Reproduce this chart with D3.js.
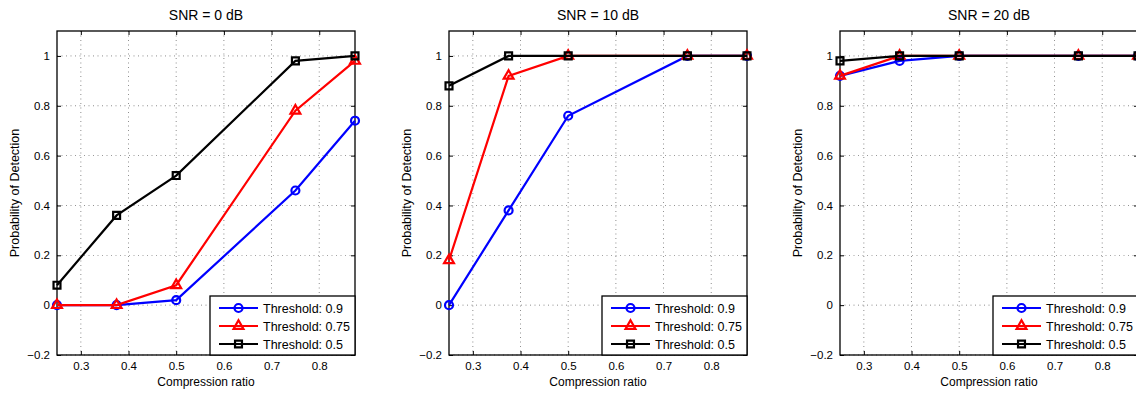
<!DOCTYPE html>
<html><head><meta charset="utf-8">
<script src="https://cdn.jsdelivr.net/npm/d3@7"></script>
<style>
html,body{margin:0;padding:0;background:#fff;overflow:hidden}
svg{display:block;font-family:"Liberation Sans",Arial,Helvetica,sans-serif}
</style></head>
<body>
<svg id="chart" width="1136" height="395"></svg>
<script>
const compressionRatios = [0.25, 0.375, 0.5, 0.75, 0.875];
const panelTitles = ["SNR = 0 dB", "SNR = 10 dB", "SNR = 20 dB"];
const seriesNames = ["Threshold: 0.9", "Threshold: 0.75", "Threshold: 0.5"];
// values per panel [SNR0, SNR10, SNR20]
const threshold09 = [
  [0, 0, 0.02, 0.46, 0.74],
  [0, 0.38, 0.76, 1, 1],
  [0.92, 0.98, 1, 1, 1]
];
const threshold075 = [
  [0, 0, 0.08, 0.78, 0.98],
  [0.18, 0.92, 1, 1, 1],
  [0.92, 1, 1, 1, 1]
];
const threshold05 = [
  [0.08, 0.36, 0.52, 0.98, 1.0],
  [0.88, 1, 1, 1, 1],
  [0.98, 1, 1, 1, 1]
];
const xTicks = [0.3, 0.4, 0.5, 0.6, 0.7, 0.8];
const yTicks = [-0.2, 0, 0.2, 0.4, 0.6, 0.8, 1];

const colors = ["#0000ff", "#ff0000", "#000000"];
const markers = ["circle", "triangle", "square"];
const allSeries = [threshold09, threshold075, threshold05];

const svg = d3.select("#chart");
const panelLefts = [57, 449, 840];
const PW = 298, PTOP = 31, PH = 324;

panelLefts.forEach((left, p) => {
  const W = PW, H = PH;
  const g = svg.append("g").attr("transform", `translate(${left},${PTOP})`);
  const x = d3.scaleLinear().domain([0.25, 0.875]).range([0, W]);
  const y = d3.scaleLinear().domain([-0.2, 1.1]).range([H, 0]);

  // grid
  g.append("g").selectAll("line").data(xTicks).join("line")
    .attr("x1", d => x(d)).attr("x2", d => x(d)).attr("y1", 0).attr("y2", H)
    .attr("stroke", "#000").attr("stroke-width", 0.6).attr("stroke-dasharray", "1,3.5").attr("opacity", 0.75);
  g.append("g").selectAll("line").data(yTicks).join("line")
    .attr("y1", d => y(d)).attr("y2", d => y(d)).attr("x1", 0).attr("x2", W)
    .attr("stroke", "#000").attr("stroke-width", 0.6).attr("stroke-dasharray", "1,3.5").attr("opacity", 0.75);

  // axes with inward ticks
  const fmt = d => d3.format("~g")(d).replace("-", "\u2212");
  const xb = g.append("g").attr("transform", `translate(0,${H})`)
    .call(d3.axisBottom(x).tickValues(xTicks).tickSizeInner(-4).tickSizeOuter(0).tickPadding(7).tickFormat(fmt));
  const xt = g.append("g")
    .call(d3.axisTop(x).tickValues(xTicks).tickSizeInner(-4).tickSizeOuter(0).tickFormat(""));
  const yl = g.append("g")
    .call(d3.axisLeft(y).tickValues(yTicks).tickSizeInner(-4).tickSizeOuter(0).tickPadding(7).tickFormat(fmt));
  const yr = g.append("g").attr("transform", `translate(${W},0)`)
    .call(d3.axisRight(y).tickValues(yTicks).tickSizeInner(-4).tickSizeOuter(0).tickFormat(""));
  [xb, xt, yl, yr].forEach(a => {
    a.select(".domain").remove();
    a.selectAll(".tick line").attr("stroke", "#000").attr("stroke-width", 1);
    a.selectAll("text").attr("font-size", 11.5).attr("fill", "#000")
      .attr("font-family", "Liberation Sans, Arial, sans-serif");
  });
  g.append("rect").attr("width", W).attr("height", H).attr("fill", "none")
    .attr("stroke", "#000").attr("stroke-width", 1.3);

  // series
  const line = d3.line().x(d => x(d[0])).y(d => y(d[1]));
  const sym = {
    circle: d3.symbol().type(d3.symbolCircle).size(50),
    triangle: d3.symbol().type(d3.symbolTriangle).size(42),
    square: d3.symbol().type(d3.symbolSquare).size(48)
  };
  allSeries.forEach((series, s) => {
    const pts = compressionRatios.map((c, i) => [c, series[p][i]]);
    const sg = g.append("g");
    sg.append("path").datum(pts).attr("d", line).attr("fill", "none")
      .attr("stroke", colors[s]).attr("stroke-width", 2.2);
    sg.selectAll("path.m").data(pts).join("path").attr("class", "m")
      .attr("transform", d => `translate(${x(d[0])},${y(d[1])})`)
      .attr("d", sym[markers[s]]())
      .attr("fill", "none")
      .attr("stroke", colors[s]).attr("stroke-width", 2.2).attr("stroke-linejoin", "miter");
  });

  // legend
  const lw = 145, lh = 59;
  const lg = g.append("g").attr("transform", `translate(${W - lw},${H - lh})`);
  lg.append("rect").attr("width", lw).attr("height", lh).attr("fill", "#fff")
    .attr("stroke", "#000").attr("stroke-width", 1.3);
  seriesNames.forEach((name, s) => {
    const ry = 12 + s * 18;
    lg.append("line").attr("x1", 9).attr("x2", 48).attr("y1", ry).attr("y2", ry)
      .attr("stroke", colors[s]).attr("stroke-width", 2.2);
    lg.append("path").attr("transform", `translate(28.5,${ry})`)
      .attr("d", sym[markers[s]]())
      .attr("fill", "none")
      .attr("stroke", colors[s]).attr("stroke-width", 2.2);
    lg.append("text").attr("x", 53).attr("y", ry + 4.5).attr("font-size", 12.5)
      .attr("fill", "#000").text(name);
  });

  // title and labels
  g.append("text").attr("x", W / 2).attr("y", -11).attr("text-anchor", "middle")
    .attr("font-size", 14).attr("fill", "#000").text(panelTitles[p]);
  g.append("text").attr("x", W / 2).attr("y", H + 31).attr("text-anchor", "middle")
    .attr("font-size", 12).attr("fill", "#000").text("Compression ratio");
  g.append("text").attr("transform", `translate(-38,${H / 2}) rotate(-90)`)
    .attr("text-anchor", "middle").attr("font-size", 12.5).attr("fill", "#000")
    .text("Probability of Detection");
});
</script>
</body></html>
